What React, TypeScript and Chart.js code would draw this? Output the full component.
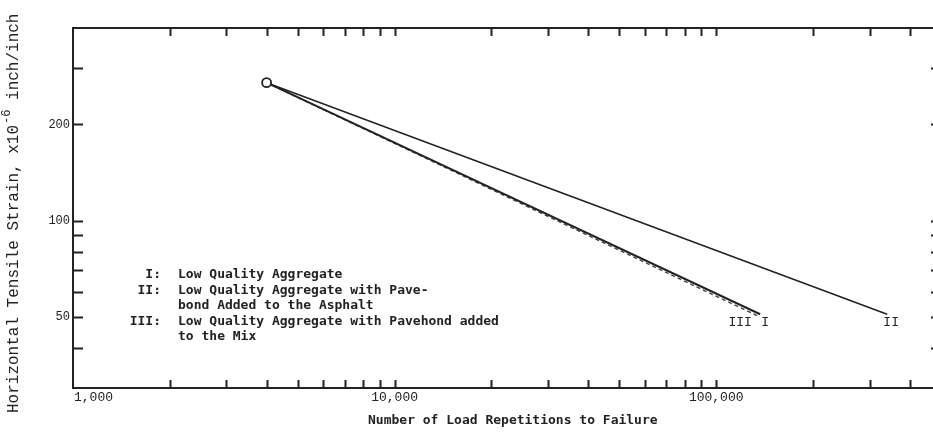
import React, { useEffect, useRef } from "react";
import { Chart, registerables } from "chart.js";

Chart.register(...registerables);

// ---- data ----
const seriesNames = ["I", "II", "III"];
const loadsI = [4000, 137000];
const strainI = [270, 51];
const loadsII = [4000, 340000];
const strainII = [270, 51];
const loadsIII = [4000, 134000];
const strainIII = [270, 50.5];

const xMin = 1000;
const xMax = 500000;
const yMin = 30;
const yMax = 400;

const xTickValues = [
  2000, 3000, 4000, 5000, 6000, 7000, 8000, 9000, 10000,
  20000, 30000, 40000, 50000, 60000, 70000, 80000, 90000, 100000,
  200000, 300000, 400000,
];
const xLabelValues = [1000, 10000, 100000];
const xLabelTexts = ["1,000", "10,000", "100,000"];
const yTickValues = [40, 50, 60, 70, 80, 90, 100, 200, 300];
const yLabelValues = [50, 100, 200];
const yLabelTexts = ["50", "100", "200"];

const xTitle = "Number of Load Repetitions to Failure";
const yTitleMain = "Horizontal Tensile Strain, x10";
const yTitleSup = "-6";
const yTitleEnd = " inch/inch";

const legendNums = ["I:", "II:", "", "III:", ""];
const legendLines = [
  "Low Quality Aggregate",
  "Low Quality Aggregate with Pave-",
  "bond Added to the Asphalt",
  "Low Quality Aggregate with Pavehond added",
  "to the Mix",
];

const INK = "#222";

const pts = (xs: number[], ys: number[]) => xs.map((x, i) => ({ x, y: ys[i] }));

const decorPlugin = {
  id: "decor",
  afterDraw(chart: any) {
    const ctx = chart.ctx as CanvasRenderingContext2D;
    const a = chart.chartArea;
    const xs = chart.scales.x;
    const ys = chart.scales.y;
    ctx.save();
    ctx.strokeStyle = INK;
    ctx.fillStyle = INK;
    // frame
    ctx.lineWidth = 2;
    ctx.strokeRect(a.left, a.top, a.right - a.left, a.bottom - a.top);
    // x ticks (inward, top and bottom)
    ctx.lineWidth = 2;
    for (const v of xTickValues) {
      const px = Math.round(xs.getPixelForValue(v)) + 0.5;
      ctx.beginPath();
      ctx.moveTo(px, a.top);
      ctx.lineTo(px, a.top + 8);
      ctx.moveTo(px, a.bottom);
      ctx.lineTo(px, a.bottom - 8);
      ctx.stroke();
    }
    // y ticks (inward, left and right)
    for (const v of yTickValues) {
      const py = Math.round(ys.getPixelForValue(v)) + 0.5;
      ctx.beginPath();
      ctx.moveTo(a.left, py);
      ctx.lineTo(a.left + 10, py);
      ctx.moveTo(a.right, py);
      ctx.lineTo(a.right - 10, py);
      ctx.stroke();
    }
    // x tick labels
    ctx.font = "13px 'Liberation Mono'";
    ctx.textBaseline = "middle";
    xLabelValues.forEach((v, i) => {
      const px = xs.getPixelForValue(v);
      if (i === 0) {
        ctx.textAlign = "left";
        ctx.fillText(xLabelTexts[i], px + 1, a.bottom + 10);
      } else {
        ctx.textAlign = "center";
        ctx.fillText(xLabelTexts[i], px, a.bottom + 10);
      }
    });
    // y tick labels
    ctx.font = "12px 'Liberation Mono'";
    ctx.textAlign = "right";
    yLabelValues.forEach((v, i) => {
      const py = ys.getPixelForValue(v);
      ctx.fillText(yLabelTexts[i], a.left - 3, py);
    });
    // x title
    ctx.font = "bold 13px 'DejaVu Sans Mono'";
    ctx.textAlign = "left";
    ctx.fillText(xTitle, 368, 421);
    // y title (rotated)
    ctx.save();
    ctx.translate(14, 413);
    ctx.rotate(-Math.PI / 2);
    ctx.textAlign = "left";
    ctx.font = "16px 'Liberation Mono'";
    ctx.fillText(yTitleMain, 0, 0);
    let w = ctx.measureText(yTitleMain).width;
    ctx.font = "12px 'Liberation Mono'";
    ctx.fillText(yTitleSup, w + 1, -7);
    w += ctx.measureText(yTitleSup).width + 1;
    ctx.font = "16px 'Liberation Mono'";
    ctx.fillText(yTitleEnd, w, 0);
    ctx.restore();
    // legend text
    ctx.font = "bold 13px 'DejaVu Sans Mono'";
    const rowsY = [275, 290.5, 306, 321.5, 337];
    legendLines.forEach((t, i) => {
      if (legendNums[i]) {
        ctx.textAlign = "right";
        ctx.fillText(legendNums[i], 161, rowsY[i]);
      }
      ctx.textAlign = "left";
      ctx.fillText(t, 178, rowsY[i]);
    });
    // end labels
    ctx.font = "13px 'Liberation Mono'";
    ctx.textAlign = "center";
    const eI = { x: xs.getPixelForValue(loadsI[1]), y: ys.getPixelForValue(strainI[1]) };
    const eII = { x: xs.getPixelForValue(loadsII[1]), y: ys.getPixelForValue(strainII[1]) };
    const eIII = { x: xs.getPixelForValue(loadsIII[1]), y: ys.getPixelForValue(strainIII[1]) };
    ctx.fillText(seriesNames[0], eI.x + 5, eI.y + 8);
    ctx.fillText(seriesNames[1], eII.x + 4, eII.y + 8);
    ctx.fillText(seriesNames[2], eIII.x - 17, eIII.y + 7);
    ctx.restore();
  },
};

export default function App() {
  const ref = useRef<HTMLCanvasElement | null>(null);
  useEffect(() => {
    if (!ref.current) return;
    const chart = new Chart(ref.current, {
      type: "line",
      data: {
        datasets: [
          {
            label: seriesNames[0],
            data: pts(loadsI, strainI),
            borderColor: INK,
            borderWidth: 2,
            pointRadius: [4.5, 0],
            pointBackgroundColor: "#fff",
            pointBorderColor: INK,
            pointBorderWidth: 1.8,
            fill: false,
          },
          {
            label: seriesNames[1],
            data: pts(loadsII, strainII),
            borderColor: INK,
            borderWidth: 1.6,
            pointRadius: 0,
            fill: false,
          },
          {
            label: seriesNames[2],
            data: pts(loadsIII, strainIII),
            borderColor: "#444",
            borderWidth: 1.4,
            borderDash: [4, 3],
            pointRadius: 0,
            fill: false,
          },
        ],
      },
      options: {
        animation: false,
        responsive: false,
        devicePixelRatio: 1,
        layout: { padding: { left: 73, top: 28, right: 19, bottom: 44 } },
        plugins: { legend: { display: false }, tooltip: { enabled: false } },
        scales: {
          x: { type: "logarithmic", min: xMin, max: xMax, display: false },
          y: { type: "logarithmic", min: yMin, max: yMax, display: false },
        },
      },
      plugins: [decorPlugin],
    });
    return () => chart.destroy();
  }, []);
  return (
    <div
      style={{
        position: "fixed",
        left: 0,
        top: 0,
        width: 933,
        height: 432,
        overflow: "hidden",
        background: "#fff",
      }}
    >
      <canvas ref={ref} width={960} height={432} style={{ width: 960, height: 432, display: "block" }} />
    </div>
  );
}
